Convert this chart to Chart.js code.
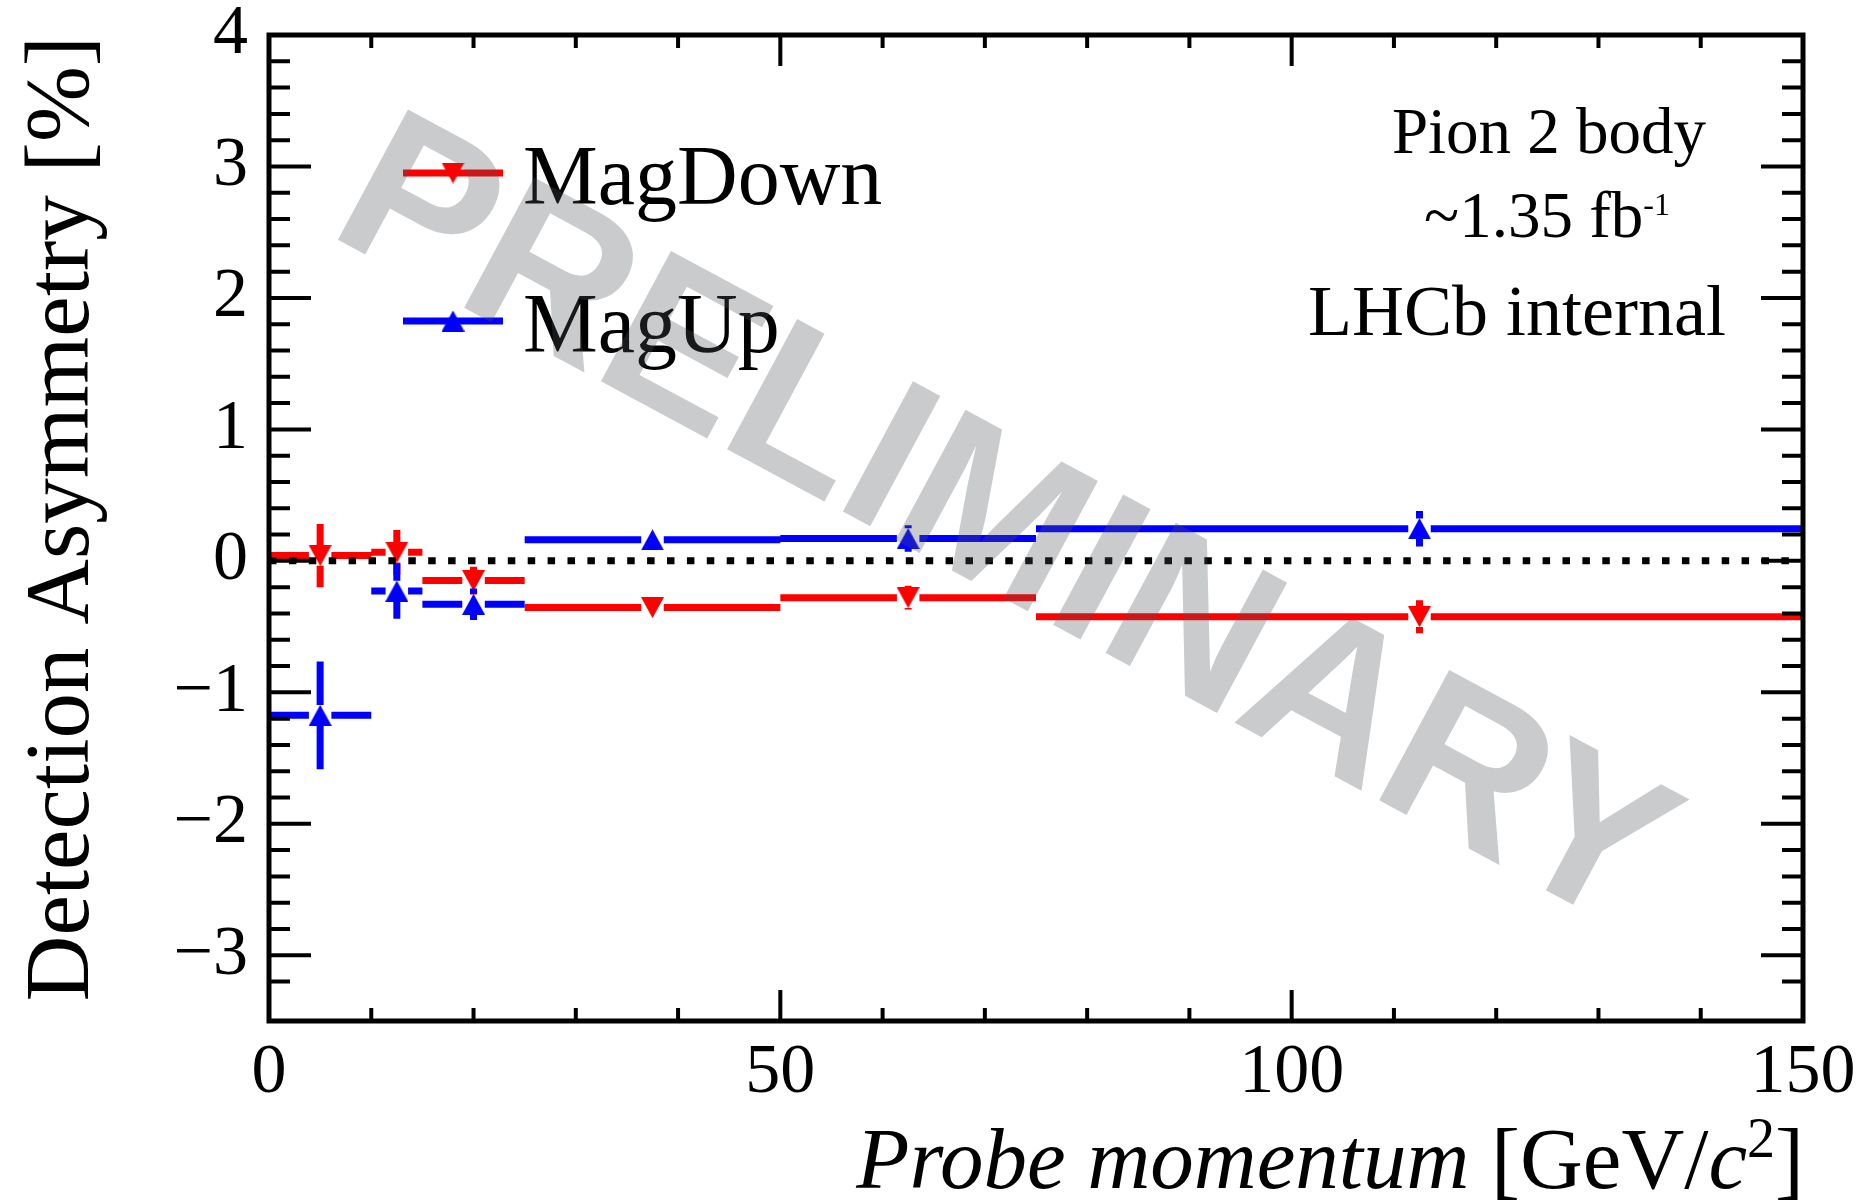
<!DOCTYPE html>
<html>
<head>
<meta charset="utf-8">
<script src="https://cdn.jsdelivr.net/npm/chart.js@4/dist/chart.umd.min.js"></script>
<style>
  html, body { margin: 0; padding: 0; background: #fff; }
</style>
</head>
<body>
<canvas id="chart" width="1861" height="1203"></canvas>
<script>
// probe momentum bins [GeV/c^2]
var binEdges = [0, 10, 15, 25, 50, 75, 150];
var binCenters = [5, 12.5, 20, 37.5, 62.5, 112.5];

// detection asymmetry [%] per bin
var magDownValues = [0.04, 0.065, -0.15, -0.355, -0.28, -0.425];
var magDownErrors = [0.24, 0.17, 0.105, 0.04, 0.09, 0.125];
var magUpValues = [-1.175, -0.23, -0.33, 0.16, 0.17, 0.245];
var magUpErrors = [0.41, 0.21, 0.12, 0.04, 0.1, 0.135];

var yTickLabels = [-3, -2, -1, 0, 1, 2, 3, 4];
var xTickLabels = [0, 50, 100, 150];

var RED = '#ff0000';
var BLUE = '#0000ff';
var SERIF = '"Liberation Serif", "Times New Roman", serif';
// half size of the marker, in axis units, where the bars stop
var GAP_X = 1.1;
var GAP_Y = 0.078;

// ROOT style triangles, centred on the point
function makeTriangle(color, up) {
  var c = document.createElement('canvas');
  c.width = 23; c.height = 21;
  var g = c.getContext('2d');
  g.fillStyle = color;
  g.beginPath();
  if (up) {
    g.moveTo(11.5, 0); g.lineTo(23, 21); g.lineTo(0, 21);
  } else {
    g.moveTo(0, 0); g.lineTo(23, 0); g.lineTo(11.5, 21);
  }
  g.closePath();
  g.fill();
  return c;
}

function binSegments(values) {
  var pts = [];
  for (var i = 0; i < values.length; i++) {
    pts.push({x: binEdges[i], y: values[i]});
    pts.push({x: binCenters[i] - GAP_X, y: values[i]});
    pts.push({x: binCenters[i], y: null});
    pts.push({x: binCenters[i] + GAP_X, y: values[i]});
    pts.push({x: binEdges[i + 1], y: values[i]});
    pts.push({x: binEdges[i + 1], y: null});
  }
  return pts;
}

function errorSegments(values, errors) {
  var pts = [];
  for (var i = 0; i < values.length; i++) {
    if (errors[i] <= GAP_Y) continue;
    var c = binCenters[i], v = values[i], e = errors[i];
    pts.push({x: c, y: v + e}, {x: c, y: v + GAP_Y}, {x: c, y: null});
    pts.push({x: c, y: v - GAP_Y}, {x: c, y: v - e}, {x: c, y: null});
  }
  return pts;
}

function markers(values) {
  return values.map(function (v, i) { return {x: binCenters[i], y: v}; });
}

var downMarker = makeTriangle(RED, false);
var upMarker = makeTriangle(BLUE, true);

function lineSet(data, color, order) {
  return { data: data, borderColor: color, borderWidth: 7, pointRadius: 0, spanGaps: false, fill: false, order: order };
}

var datasets = [
  // zero reference
  { data: [{x: 0, y: 0}, {x: 150, y: 0}], borderColor: '#000', borderWidth: 7, borderDash: [7.5, 12.4],
    pointRadius: 0, fill: false, order: 0 },
  { label: 'MagUp', data: markers(magUpValues), showLine: false, pointStyle: upMarker, pointRadius: 12, order: 1, legend: true },
  lineSet(errorSegments(magUpValues, magUpErrors), BLUE, 2),
  lineSet(binSegments(magUpValues), BLUE, 3),
  { label: 'MagDown', data: markers(magDownValues), showLine: false, pointStyle: downMarker, pointRadius: 12, order: 4, legend: true },
  lineSet(errorSegments(magDownValues, magDownErrors), RED, 5),
  lineSet(binSegments(magDownValues), RED, 6)
];

function isInt(v) { return Math.abs(v - Math.round(v)) < 1e-6; }

// inward ticks on all four sides plus the frame
var framePlugin = {
  id: 'frame',
  afterDatasetsDraw: function (chart) {
    var ctx = chart.ctx, a = chart.chartArea;
    var xs = chart.scales.x, ys = chart.scales.y;
    ctx.save();
    ctx.strokeStyle = '#000';
    ctx.lineWidth = 4;
    ctx.beginPath();
    ys.ticks.forEach(function (t) {
      if (t.value <= ys.min || t.value >= ys.max) return;
      var py = ys.getPixelForValue(t.value);
      var len = isInt(t.value) ? 42 : 21;
      ctx.moveTo(a.left, py); ctx.lineTo(a.left + len, py);
      ctx.moveTo(a.right, py); ctx.lineTo(a.right - len, py);
    });
    xs.ticks.forEach(function (t) {
      if (t.value <= xs.min || t.value >= xs.max) return;
      var px = xs.getPixelForValue(t.value);
      var len = t.value % 50 === 0 ? 31 : 13;
      ctx.moveTo(px, a.bottom); ctx.lineTo(px, a.bottom - len);
      ctx.moveTo(px, a.top); ctx.lineTo(px, a.top + len);
    });
    ctx.stroke();
    ctx.lineWidth = 5;
    ctx.strokeRect(a.left, a.top, a.right - a.left, a.bottom - a.top);
    ctx.restore();
  }
};

// draw a run of [text, font, dy] pieces
function drawPieces(ctx, pieces, x, y, align) {
  var total = 0;
  pieces.forEach(function (p) { ctx.font = p[1]; total += ctx.measureText(p[0]).width; });
  var cx = align === 'right' ? x - total : x - total / 2;
  ctx.textAlign = 'left';
  pieces.forEach(function (p) {
    ctx.font = p[1];
    ctx.fillText(p[0], cx, y + (p[2] || 0));
    cx += ctx.measureText(p[0]).width;
  });
}

var textPlugin = {
  id: 'texts',
  afterDraw: function (chart) {
    var ctx = chart.ctx;
    ctx.save();
    ctx.fillStyle = '#000';
    ctx.textBaseline = 'alphabetic';
    ctx.textAlign = 'left';

    // y axis title
    ctx.save();
    ctx.translate(88, 36);
    ctx.rotate(-Math.PI / 2);
    ctx.textAlign = 'right';
    ctx.font = '91px ' + SERIF;
    ctx.fillText('Detection Asymmetry [%]', 0, 0);
    ctx.restore();

    // x axis title
    drawPieces(ctx, [
      ['Probe momentum', 'italic 87px ' + SERIF],
      [' [GeV/', '87px ' + SERIF],
      ['c', 'italic 87px ' + SERIF],
      ['2', '56px ' + SERIF, -31],
      [']', '87px ' + SERIF]
    ], 1804, 1188, 'right');

    // legend
    var legendRows = {MagDown: 173, MagUp: 321};
    chart.data.datasets.forEach(function (ds) {
      if (!ds.legend) return;
      var y = legendRows[ds.label];
      ctx.strokeStyle = ds.label === 'MagDown' ? RED : BLUE;
      ctx.lineWidth = 7;
      ctx.beginPath(); ctx.moveTo(403, y); ctx.lineTo(503, y); ctx.stroke();
      var img = ds.pointStyle;
      ctx.drawImage(img, 453 - img.width / 2, y - img.height / 2);
      ctx.textAlign = 'left';
      ctx.font = '84px ' + SERIF;
      ctx.fillText(ds.label, 523, y + 31);
    });

    // labels top right
    ctx.textAlign = 'center';
    ctx.font = '65px ' + SERIF;
    ctx.fillText('Pion 2 body', 1549, 153);
    drawPieces(ctx, [
      ['~1.35 fb', '65px ' + SERIF],
      ['-1', '32px ' + SERIF, -22]
    ], 1547, 237, 'center');
    ctx.textAlign = 'center';
    ctx.font = '72px ' + SERIF;
    ctx.fillText('LHCb internal', 1517, 335);

    // watermark on top of everything
    ctx.translate(1002, 530);
    ctx.rotate(28.3 * Math.PI / 180);
    ctx.textAlign = 'center';
    ctx.textBaseline = 'middle';
    ctx.font = 'bold 215px "Liberation Sans", Arial, sans-serif';
    ctx.fillStyle = 'rgba(80, 84, 90, 0.3)';
    ctx.fillText('PRELIMINARY', 0, 0);
    ctx.restore();
  }
};

var ctx = document.getElementById('chart').getContext('2d');
var chart = new Chart(ctx, {
  type: 'line',
  data: { datasets: datasets },
  options: {
    responsive: false,
    animation: false,
    events: [],
    layout: { padding: { left: 0, top: 35, right: 58, bottom: 0 } },
    plugins: { legend: { display: false }, tooltip: { enabled: false } },
    scales: {
      x: {
        type: 'linear', min: 0, max: 150,
        grid: { display: false, drawTicks: false },
        border: { display: false },
        ticks: {
          stepSize: 10, autoSkip: false, maxRotation: 0, padding: 18, color: '#000',
          font: { family: SERIF, size: 70, lineHeight: 1 },
          callback: function (v) { return xTickLabels.indexOf(v) >= 0 ? String(v) : ''; }
        },
        afterFit: function (s) { s.height = 182; s.paddingLeft = 0; s.paddingRight = 0; }
      },
      y: {
        type: 'linear', min: -3.5, max: 4,
        grid: { display: false, drawTicks: false },
        border: { display: false },
        ticks: {
          stepSize: 0.2, autoSkip: false, padding: 21, color: '#000',
          font: { family: SERIF, size: 70, lineHeight: 1 },
          callback: function (v) {
            if (!isInt(v)) return '';
            var r = Math.round(v);
            if (yTickLabels.indexOf(r) < 0) return '';
            return r < 0 ? '\u2212' + Math.abs(r) : String(r);
          }
        },
        afterFit: function (s) { s.width = 269; s.paddingTop = 0; s.paddingBottom = 0; }
      }
    }
  },
  plugins: [framePlugin, textPlugin]
});
</script>
</body>
</html>
